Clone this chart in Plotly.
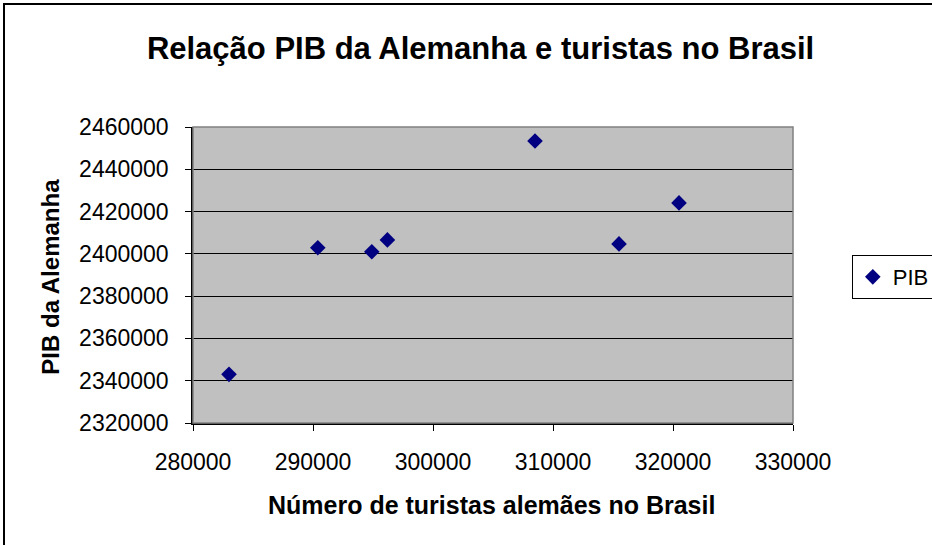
import plotly.graph_objects as go

turistas = [283000, 290400, 294900, 296200, 308500, 315500, 320500]
pib = [2343000, 2402900, 2401000, 2406600, 2453400, 2404700, 2424100]
serie = "PIB"

titulo = "Relação PIB da Alemanha e turistas no Brasil"
x_titulo = "Número de turistas alemães no Brasil"
y_titulo = "PIB da Alemanha"

fonte = "Liberation Sans, Arial, sans-serif"

fig = go.Figure()
fig.add_trace(
    go.Scatter(
        x=turistas,
        y=pib,
        mode="markers",
        name=serie,
        marker=dict(symbol="diamond", size=12, color="#000080"),
    )
)

fig.update_layout(
    width=932,
    height=545,
    margin=dict(l=193, r=139, t=127, b=122, autoexpand=False),
    paper_bgcolor="white",
    plot_bgcolor="#C0C0C0",
    font=dict(family=fonte, size=23, color="black"),
    title=dict(
        text="<b>" + titulo + "</b>",
        x=0.5156, xanchor="center", y=0.912, yanchor="middle",
        font=dict(size=31),
    ),
    showlegend=True,
    legend=dict(
        x=1.098, xanchor="left", y=0.493, yanchor="middle",
        bordercolor="black", borderwidth=1, bgcolor="white",
        font=dict(size=22),
        itemwidth=30,
    ),
    annotations=[
        dict(text="<b>" + x_titulo + "</b>", xref="paper", yref="paper",
             x=0.498, y=-0.277, xanchor="center", yanchor="middle",
             showarrow=False, font=dict(size=25)),
        dict(text="<b>" + y_titulo + "</b>", xref="paper", yref="paper",
             x=-0.238, y=0.495, xanchor="center", yanchor="middle",
             textangle=-90, showarrow=False, font=dict(size=24)),
    ],
    shapes=[
        dict(type="rect", xref="paper", yref="paper",
             x0=-0.315, x1=2, y0=-2, y1=1.4155,
             line=dict(color="black", width=2), layer="below"),
        dict(type="rect", xref="paper", yref="paper",
             x0=0, x1=1, y0=0, y1=1,
             line=dict(color="#808080", width=1.5)),
    ],
)

fig.update_xaxes(
    range=[280000, 330000],
    dtick=10000,
    showgrid=False,
    zeroline=False,
    showline=True, linecolor="black", linewidth=1.5,
    ticks="outside", ticklen=6, tickcolor="black",
    ticklabelstandoff=12,
    tickformat="d",
)
fig.update_yaxes(
    range=[2320000, 2460000],
    dtick=20000,
    showgrid=True, gridcolor="black", gridwidth=1,
    zeroline=False,
    showline=True, linecolor="black", linewidth=1.5,
    ticks="outside", ticklen=6, tickcolor="black",
    ticklabelstandoff=12,
    tickformat="d",
)

fig.write_html("out.html", config={"displayModeBar": False},
               post_script="document.body.style.margin='0';")
